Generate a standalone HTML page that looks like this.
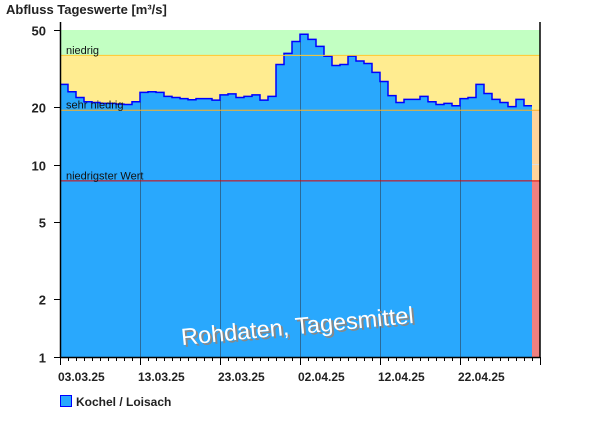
<!DOCTYPE html>
<html><head><meta charset="utf-8">
<style>
html,body{margin:0;padding:0;background:#fff;}
svg{display:block;font-family:"Liberation Sans",Arial,sans-serif;}
</style></head>
<body>
<svg id="chart" width="600" height="426" viewBox="0 0 600 426" xmlns="http://www.w3.org/2000/svg">
<text x="6" y="14" font-size="13" font-weight="bold" fill="#222">Abfluss Tageswerte [m³/s]</text>
<g id="bands"></g>
<g id="series"></g>
<g id="grid"></g>
<g id="labels"></g>
<g id="axes"></g>
<text x="298" y="334" font-size="23.5" fill="#888" text-anchor="middle" transform="rotate(-5.5 298 334)" dx="2" dy="2">Rohdaten, Tagesmittel</text>
<text x="298" y="334" font-size="23.5" fill="#fff" text-anchor="middle" transform="rotate(-5.5 298 334)">Rohdaten, Tagesmittel</text>
<rect x="60.5" y="395.5" width="11" height="11" fill="#29a8fd" stroke="#0000ff" stroke-width="1"/>
<text x="76" y="406" font-size="12" font-weight="bold" fill="#222">Kochel / Loisach</text>
</svg>
<script>
const flowValues = [26.1,23.9,22.3,21.2,21.0,20.8,20.8,20.6,20.5,21.2,23.7,23.9,23.7,22.6,22.3,22.0,21.7,22.0,22.0,21.6,23.0,23.3,22.3,22.6,23.0,21.6,22.6,33.1,37.8,43.6,
47.5,44.7,41.1,36.5,32.7,33.1,36.6,34.5,33.5,30.1,27.0,22.8,21.0,21.8,21.8,22.6,21.2,20.5,20.8,20.2,22.0,22.3,26.1,23.4,21.8,21.0,20.0,21.8,20.2];
const yTicks = [50,20,10,5,2,1];
const xTickLabels = ["03.03.25","13.03.25","23.03.25","02.04.25","12.04.25","22.04.25"];
const thresholdValues = [36.9,19.15,8.23];
const thresholdNames = ["niedrig","sehr niedrig","niedrigster Wert"];
const totalDays = 60;

const NS="http://www.w3.org/2000/svg";
const X0=60,X1=540,Y0=30,Y1=357;
const yMin=1,yMax=50;
function sy(v){return Y1-(Math.log10(v)-Math.log10(yMin))/(Math.log10(yMax)-Math.log10(yMin))*(Y1-Y0);}
function sx(d){return X0+d*(X1-X0)/totalDays;}
function mk(tag,attrs,parent){const e=document.createElementNS(NS,tag);for(const k in attrs)e.setAttribute(k,attrs[k]);document.getElementById(parent).appendChild(e);return e;}

const tN=sy(thresholdValues[0]),tS=sy(thresholdValues[1]),tL=sy(thresholdValues[2]);
let b=mk('rect',{x:X0,y:Y0,width:X1-X0,height:tN-Y0,fill:'#c2ffc2'},'bands');

b=mk('rect',{x:X0,y:tN,width:X1-X0,height:tS-tN,fill:'#ffec90'},'bands');

b=mk('rect',{x:X0,y:tS,width:X1-X0,height:tL-tS,fill:'#ffd49b'},'bands');

b=mk('rect',{x:X0,y:tL,width:X1-X0,height:Y1-tL,fill:'#f08080'},'bands');

const gl=mk('line',{x1:X0,x2:X1,y1:sy(10),y2:sy(10),stroke:'#ddd','stroke-width':1},'bands');


let d='M'+sx(0)+','+Y1;
let ld='';
flowValues.forEach((v,i)=>{const y=sy(v);d+=' L'+sx(i)+','+y+' L'+sx(i+1)+','+y;ld+=(i===0?'M':' L')+sx(i)+','+y+' L'+sx(i+1)+','+y;});
d+=' L'+sx(flowValues.length)+','+Y1+' Z';
const area=mk('path',{d:d,fill:'#29a8fd'},'series');


xTickLabels.forEach((lab,i)=>{
  const k=i*10;
  const x=sx(k)+0.5;
  if(i>0){
    const vmin=Math.min(flowValues[k-1],flowValues[k]);
    const g=mk('line',{x1:x,x2:x,y1:sy(vmin),y2:Y1,stroke:'#2a5a80','stroke-width':1,'stroke-opacity':0.8},'series');
    
  }
  const t=mk('text',{x:sx(k)-2,y:381,'font-size':12,'font-weight':'bold',fill:'#222'},'axes');
  t.textContent=lab;
  
});

const line=mk('path',{d:ld,fill:'none',stroke:'#0000ff','stroke-width':1.5},'series');


const tColors=['#ffc830','#ffb020','#e00000'];
thresholdValues.forEach((v,i)=>{
  const y=sy(v);
  const l=mk('line',{x1:X0,x2:X1,y1:y,y2:y,stroke:tColors[i],'stroke-width':1},'grid');
  
  const t=mk('text',{x:66,y:y-1.5,'font-size':11,fill:'#111'},'labels');
  t.textContent=thresholdNames[i];
  
});

for(let k=0;k<=totalDays;k++){
  const x=sx(k)+0.5;const major=k%10===0;
  const t=mk('line',{x1:x,x2:x,y1:Y1,y2:Y1+(major?8:4),stroke:'#000','stroke-width':1},'axes');
  
}
yTicks.forEach(v=>{
  const y=Math.round(sy(v))+0.5;
  const t=mk('line',{x1:X0-6,x2:X0,y1:y,y2:y,stroke:'#000','stroke-width':1},'axes');
  
  const l=mk('text',{x:46,y:y+5,'font-size':13,'font-weight':'bold','text-anchor':'end',fill:'#222'},'axes');
  l.textContent=v;
  
});
let a=mk('line',{x1:X0+0.5,x2:X0+0.5,y1:22,y2:Y1+0.5,stroke:'#000','stroke-width':1.5},'axes');

a=mk('line',{x1:X1,x2:X1,y1:22,y2:Y1+0.5,stroke:'#000','stroke-width':1.5},'axes');

a=mk('line',{x1:X0,x2:X1,y1:Y1+0.5,y2:Y1+0.5,stroke:'#000','stroke-width':1.5},'axes');

</script>
</body></html>
